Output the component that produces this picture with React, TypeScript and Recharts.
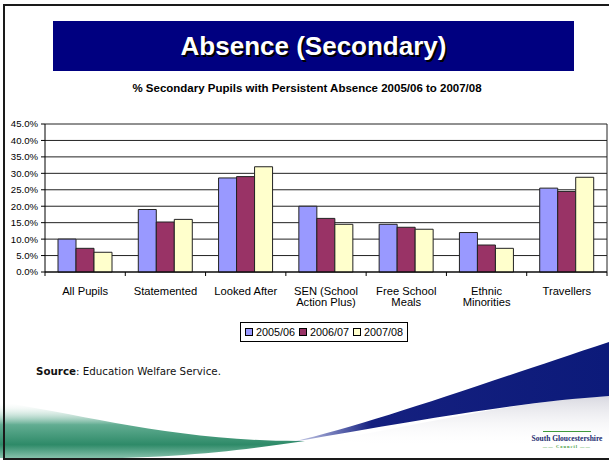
import { BarChart, Bar, XAxis, YAxis, CartesianGrid, Legend } from "recharts"

const categories = [
  "All Pupils",
  "Statemented",
  "Looked After",
  "SEN (School\nAction Plus)",
  "Free School\nMeals",
  "Ethnic\nMinorities",
  "Travellers",
]
const years = ["2005/06", "2006/07", "2007/08"]
const values0506 = [10.0, 19.0, 28.6, 20.0, 14.5, 12.0, 25.5]
const values0607 = [7.2, 15.2, 29.0, 16.3, 13.6, 8.2, 24.5]
const values0708 = [6.0, 16.0, 32.0, 14.5, 13.0, 7.2, 28.8]
const yTicks = [0, 5, 10, 15, 20, 25, 30, 35, 40, 45]

const colors = ["#9999FF", "#993366", "#FFFFCC"]

const data = categories.map((name, i) => ({
  name,
  [years[0]]: values0506[i],
  [years[1]]: values0607[i],
  [years[2]]: values0708[i],
}))

const FONT = "'Liberation Sans', Arial, sans-serif"

function CategoryTick(props: any) {
  const { x, y, payload, index, width } = props
  const band = width / categories.length
  const lines = String(payload.value).split("\n")
  const axisY = y - 8
  return (
    <g>
      <line x1={x - band / 2} x2={x - band / 2} y1={axisY} y2={axisY + 4} stroke="#000" />
      {index === categories.length - 1 && (
        <line x1={x + band / 2} x2={x + band / 2} y1={axisY} y2={axisY + 4} stroke="#000" />
      )}
      <text x={x} y={axisY + 23} textAnchor="middle" fontSize={11.2} fontFamily={FONT} fill="#000">
        {lines.map((l, k) => (
          <tspan key={k} x={x} dy={k === 0 ? 0 : 11}>
            {l}
          </tspan>
        ))}
      </text>
    </g>
  )
}

function LegendBox() {
  return (
    <div
      style={{
        border: "1px solid #000",
        background: "#fff",
        display: "flex",
        alignItems: "center",
        height: 18,
        padding: "0 4px",
        fontFamily: FONT,
        fontSize: 10.8,
        color: "#000",
        whiteSpace: "nowrap",
      }}
    >
      {years.map((y, i) => (
        <span key={y} style={{ display: "flex", alignItems: "center", marginRight: i < 2 ? 4 : 0 }}>
          <span
            style={{
              display: "inline-block",
              width: 6,
              height: 6,
              border: "1px solid #000",
              background: colors[i],
              marginRight: 3,
            }}
          />
          {y}
        </span>
      ))}
    </div>
  )
}

function Swooshes() {
  return (
    <svg width={609} height={461} style={{ position: "absolute", left: 0, top: 0 }}>
      <defs>
        <linearGradient id="blueFade" x1="0" y1="0" x2="1" y2="0">
          <stop offset="0" stopColor="#1a2a9a" stopOpacity={0.2} />
          <stop offset="0.25" stopColor="#15207f" stopOpacity={1} />
          <stop offset="1" stopColor="#0c1a7a" />
        </linearGradient>
        <linearGradient id="greenFade" x1="0" y1="0" x2="0" y2="1">
          <stop offset="0" stopColor="#ffffff" stopOpacity={0} />
          <stop offset="0.4" stopColor="#62ad92" />
          <stop offset="0.75" stopColor="#2e8a68" />
          <stop offset="1" stopColor="#8cc5b0" />
        </linearGradient>
        <linearGradient id="greyFade" x1="0" y1="0" x2="0" y2="1">
          <stop offset="0" stopColor="#d8d8e0" />
          <stop offset="1" stopColor="#ffffff" stopOpacity={0} />
        </linearGradient>
      </defs>
      <path d="M 330 440 C 420 425, 520 400, 609 396 L 609 445 C 520 448, 420 448, 330 440 Z" fill="url(#greyFade)" />
      <path d="M 0 402 C 80 414, 180 442, 305 441 C 230 452, 150 462, 0 458 Z" fill="url(#greenFade)" />
      <path
        d="M 292 442 C 370 424, 470 388, 609 342 L 609 396 C 520 402, 420 420, 292 442 Z"
        fill="url(#blueFade)"
      />
    </svg>
  )
}

export default function App() {
  return (
    <div
      style={{
        position: "absolute",
        left: 0,
        top: 0,
        width: 609,
        height: 461,
        overflow: "hidden",
        background: "#fff",
      }}
    >
      <Swooshes />
      <div
        style={{
          position: "absolute",
          left: 3,
          top: 4,
          width: 640,
          height: 452,
          borderTop: "2px solid #1a1a1a",
          borderLeft: "2px solid #1a1a1a",
          borderBottom: "2px solid #1a1a1a",
        }}
      />
      <div
        style={{
          position: "absolute",
          left: 53,
          top: 21,
          width: 521,
          height: 50,
          background: "#000080",
          color: "#fff",
          display: "flex",
          alignItems: "center",
          justifyContent: "center",
          fontFamily: FONT,
          fontWeight: "bold",
          fontSize: 26,
          textShadow: "2px 2px 0 #000",
        }}
      >
        Absence (Secondary)
      </div>
      <div
        style={{
          position: "absolute",
          left: 0,
          width: 614,
          top: 82,
          textAlign: "center",
          fontFamily: FONT,
          fontWeight: "bold",
          fontSize: 11.5,
          color: "#000",
        }}
      >
        % Secondary Pupils with Persistent Absence 2005/06 to 2007/08
      </div>
      <div
        style={{
          position: "absolute",
          left: 36,
          top: 365,
          fontFamily: "'DejaVu Sans', Verdana, sans-serif",
          fontSize: 10.3,
          color: "#111",
        }}
      >
        <span style={{ fontWeight: 600 }}>Source</span>: Education Welfare Service.
      </div>
      <div
        style={{
          position: "absolute",
          left: 530,
          top: 431,
          width: 74,
          textAlign: "center",
          fontFamily: "'Liberation Serif', serif",
          fontWeight: "bold",
          fontSize: 7.5,
          color: "#1c2a6e",
          lineHeight: "8px",
          whiteSpace: "nowrap",
        }}
      >
        <div style={{ borderTop: "1.5px solid #3f9a3a", width: 48, margin: "0 auto 3px" }} />
        South Gloucestershire
        <div style={{ fontSize: 4.5, color: "#3f9a3a", letterSpacing: 1 }}>—— Council ——</div>
      </div>
      <BarChart
        width={609}
        height={461}
        data={data}
        margin={{ top: 124, right: 2, bottom: 149, left: 0 }}
        barCategoryGap={13}
        barGap={0}
        style={{ position: "absolute", left: 0, top: 0 }}
      >
        <CartesianGrid
          stroke="#222"
          strokeWidth={1}
          verticalCoordinatesGenerator={(p: any) => [p.offset.left + p.offset.width]}
        />
        <XAxis
          dataKey="name"
          interval={0}
          tickLine={false}
          axisLine={{ stroke: "#000" }}
          tick={<CategoryTick />}
          height={40}
        />
        <YAxis
          domain={[0, 45]}
          ticks={yTicks}
          interval={0}
          width={45}
          tickSize={4}
          tickMargin={3}
          tickLine={{ stroke: "#000" }}
          axisLine={{ stroke: "#000" }}
          tickFormatter={(v: number) => `${v.toFixed(1)}%`}
          tick={{ fontSize: 9.6, fontFamily: FONT, fill: "#000" }}
        />
        <Legend
          verticalAlign="middle"
          align="center"
          content={<LegendBox />}
          wrapperStyle={{ top: 322, left: 240, width: "auto" }}
        />
        {years.map((y, i) => (
          <Bar
            key={y}
            dataKey={y}
            fill={colors[i]}
            stroke="#222"
            strokeWidth={1}
            isAnimationActive={false}
          />
        ))}
      </BarChart>
    </div>
  )
}
